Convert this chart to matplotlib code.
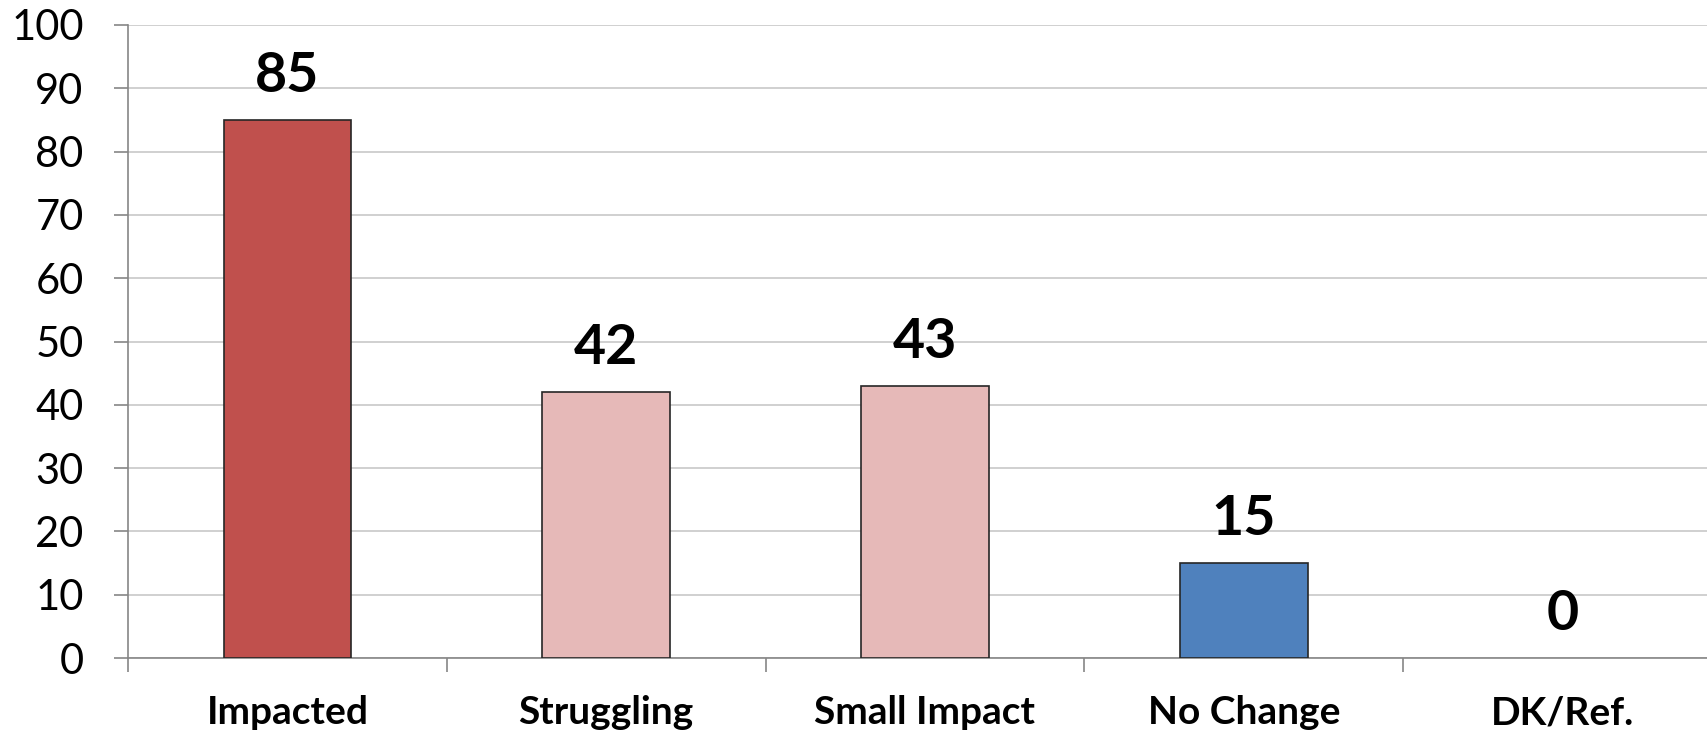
import numpy as np
from matplotlib import pyplot as plt

categories = ['Impacted', 'Struggling', 'Small Impact', 'No Change', 'DK/Ref.']
values = [85, 42, 43, 15, 0]
bar_colors = ['#C0504D', '#E6B9B8', '#E6B9B8', '#4F81BD', '#4F81BD']
y_ticks = [0, 10, 20, 30, 40, 50, 60, 70, 80, 90, 100]

plt.rcParams['font.family'] = ['Lato', 'DejaVu Sans']

fig = plt.figure(figsize=(17.08, 7.35), dpi=100)
# axes runs slightly past the right edge, as in the source image
ax = fig.add_axes([128/1708, 77/735, 1594/1708, 633/735])

x = np.arange(len(categories))
edge_widths = [1.2 if v else 0 for v in values]
ax.bar(x, values, width=0.4, color=bar_colors, edgecolor='#262626', linewidth=edge_widths, zorder=3)

for xi, v in zip(x, values):
    ax.annotate(str(v), (xi, v), xytext=(0, 20), textcoords='offset points',
                ha='center', va='baseline', fontsize=40, fontweight='bold', color='black')

ax.set_xlim(-0.5, len(categories) - 0.5)
ax.set_ylim(0, 100)
ax.set_yticks(y_ticks)
ax.tick_params(axis='y', labelsize=30, length=10, width=1.2, color='#868686', pad=22)
ax.yaxis.grid(True, color='#d0d0d0', linewidth=1.4, zorder=0)

ax.set_xticks(x)
ax.set_xticklabels(categories, fontsize=28, fontweight='bold')
ax.set_xticks(np.arange(len(categories) + 1) - 0.5, minor=True)
ax.tick_params(axis='x', which='major', length=0, pad=27)
ax.tick_params(axis='x', which='minor', length=10, width=1.2, color='#868686')

for side in ['top', 'right']:
    ax.spines[side].set_visible(False)
for side in ['left', 'bottom']:
    ax.spines[side].set_color('#868686')
    ax.spines[side].set_linewidth(1.2)

fig.savefig('out.png', dpi=100)
